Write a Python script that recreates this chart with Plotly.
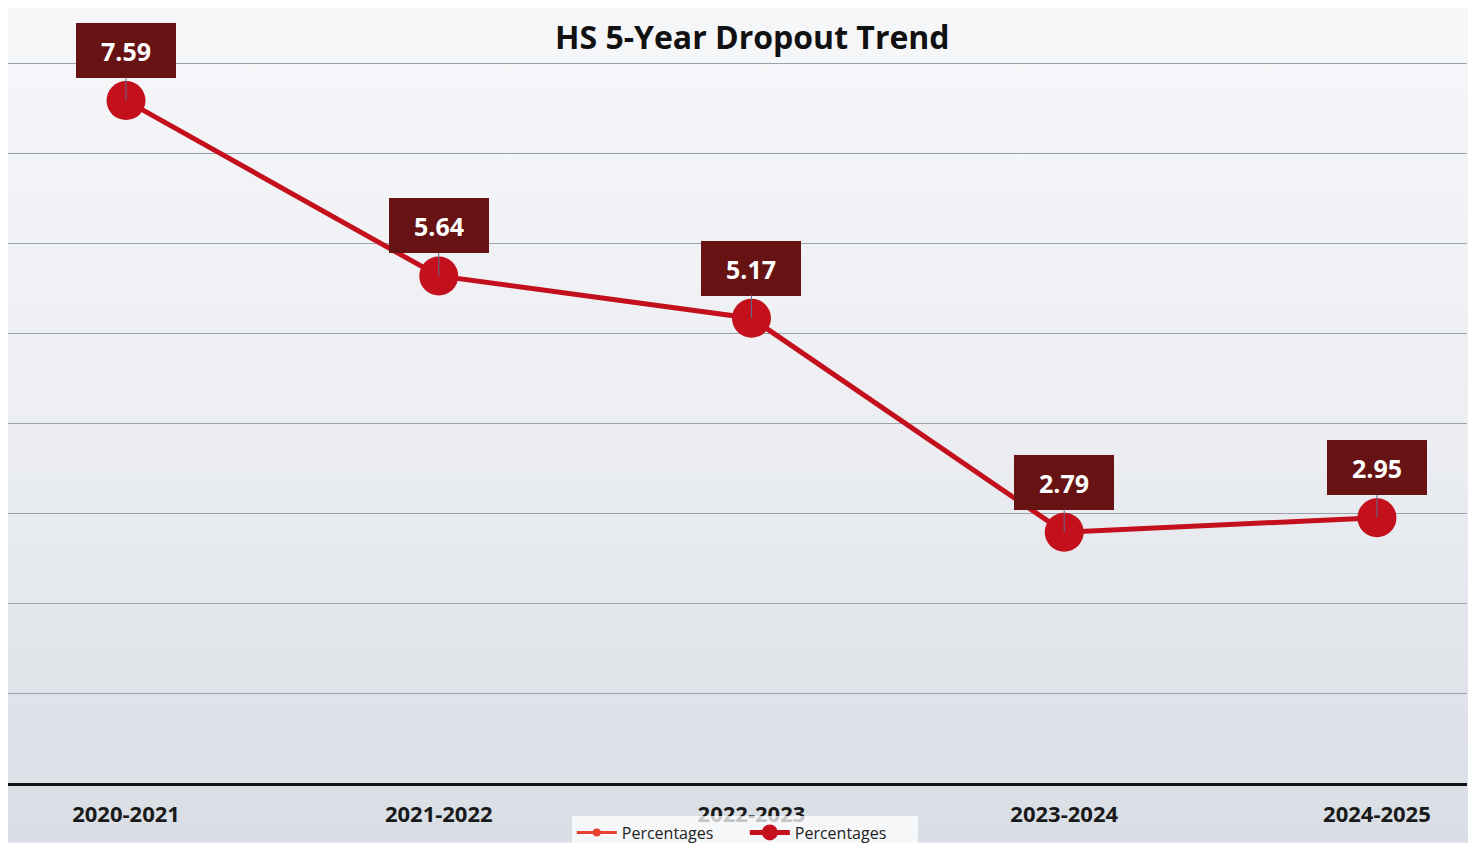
import plotly.graph_objects as go
import urllib.parse

categories = ["2020-2021", "2021-2022", "2022-2023", "2023-2024", "2024-2025"]
percentages = [7.59, 5.64, 5.17, 2.79, 2.95]
title_text = "HS 5-Year Dropout Trend"
series_name = "Percentages"

W, H = 1468, 842

svg = (
    "<svg xmlns='http://www.w3.org/2000/svg' width='1468' height='842'>"
    "<defs><linearGradient id='g' x1='0' y1='0' x2='0' y2='1'>"
    "<stop offset='0' stop-color='#f6f7f9'/>"
    "<stop offset='0.5' stop-color='#eceef2'/>"
    "<stop offset='1' stop-color='#d9dee5'/>"
    "</linearGradient></defs>"
    "<rect width='1468' height='842' fill='url(#g)'/></svg>"
)
bg_uri = "data:image/svg+xml;charset=utf-8," + urllib.parse.quote(svg)

FONT = "Open Sans, Noto Sans, sans-serif"

fig = go.Figure()
fig.add_trace(go.Scatter(
    x=categories, y=percentages, name=series_name, mode="lines+markers",
    line=dict(color="#e8402f", width=3), marker=dict(size=8, color="#e8402f"),
))
fig.add_trace(go.Scatter(
    x=categories, y=percentages, name=series_name, mode="lines+markers",
    line=dict(color="#c3101c", width=5), marker=dict(size=39, color="#c3101c"),
))

for c, v in zip(categories, percentages):
    fig.add_annotation(
        x=c, y=v, text=f"<b>{v:.2f}</b>", showarrow=True, arrowhead=0,
        arrowwidth=1, arrowcolor="#5b6b8c", ax=0, ay=-50, standoff=0,
        font=dict(family=FONT, size=25, color="white"),
        bgcolor="#681313", bordercolor="#681313", width=96, height=51,
        align="center", valign="middle",
    )

fig.update_layout(
    width=W, height=H,
    margin=dict(l=0, r=9, t=0, b=60),
    paper_bgcolor="#e9ecf0", plot_bgcolor="rgba(0,0,0,0)",
    images=[dict(source=bg_uri, xref="paper", yref="paper", x=0, y=1.0,
                 sizex=W / (W - 9), sizey=H / (H - 60), xanchor="left", yanchor="top",
                 sizing="stretch", layer="below")],
    title=dict(text=f"<b>{title_text}</b>", x=0.507, xanchor="center",
               y=1 - 30 / H, yanchor="middle",
               font=dict(family=FONT, size=32, color="#111111")),
    showlegend=True,
    legend=dict(orientation="h", x=0.505, xanchor="center", y=-(832 - 782) / 782, yanchor="middle",
                bgcolor="rgba(255,255,255,0.75)", borderwidth=0,
                font=dict(family=FONT, size=16, color="#222222"),
                itemwidth=40, entrywidth=118, tracegroupgap=0),
    xaxis=dict(range=[-0.3774, 4.288], showgrid=False, showline=True, linecolor="#111111",
               linewidth=3, ticks="outside", ticklen=10, tickcolor="rgba(0,0,0,0)",
               tickfont=dict(family=FONT, size=22, color="#1a1a1a"),
               tickprefix="<b>", ticksuffix="</b>"),
    yaxis=dict(range=[0, 8.62], dtick=1, showgrid=True, gridcolor="#9aa2ae", gridwidth=1,
               zeroline=False, showticklabels=False, showline=False),
)

fig.write_html("out.html")
